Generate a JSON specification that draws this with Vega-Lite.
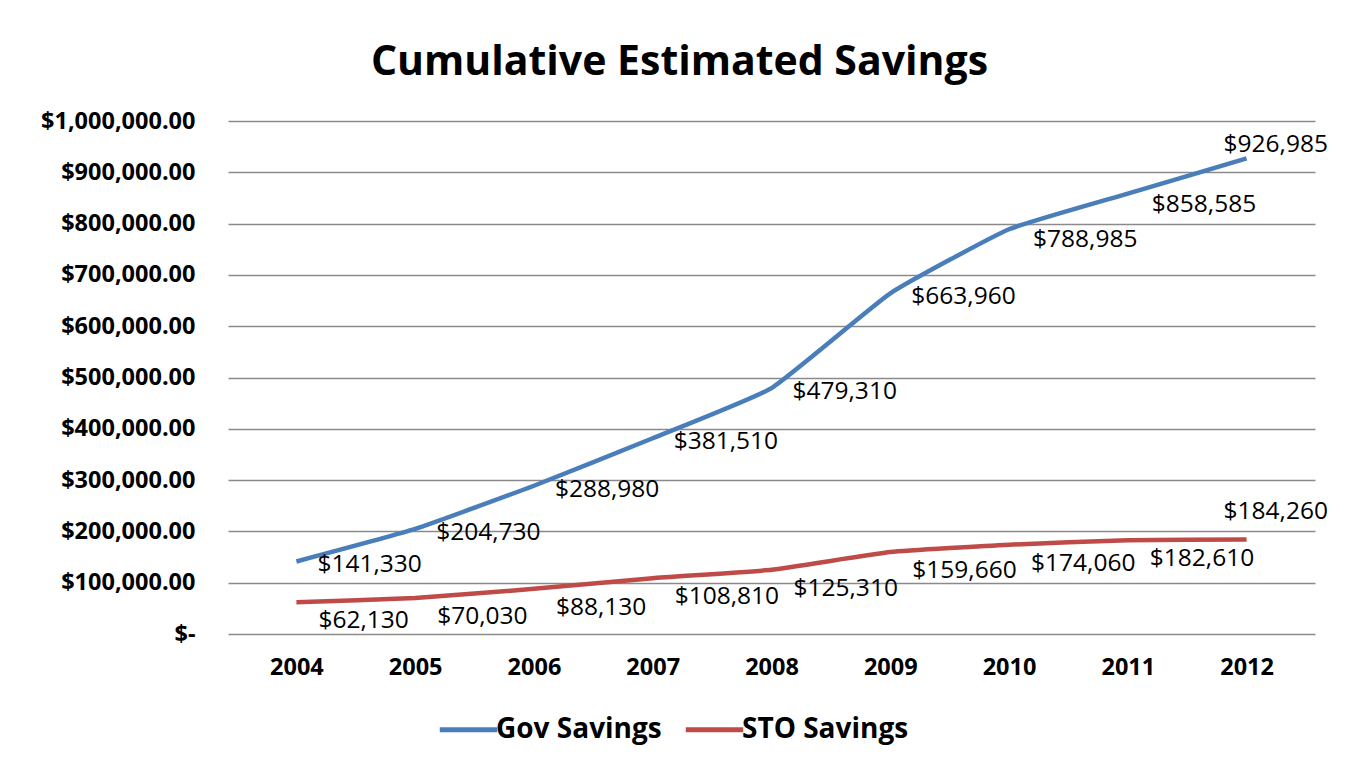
{
  "$schema": "https://vega.github.io/schema/vega-lite/v6.json",
  "autosize": {"type": "none"},
  "width": 1087,
  "height": 513,
  "padding": {"left": 228, "top": 121, "right": 41, "bottom": 143},
  "background": "white",
  "title": {
    "text": "Cumulative Estimated Savings",
    "font": "Open Sans",
    "fontWeight": "bold",
    "fontSize": 41,
    "color": "#000000",
    "anchor": "middle",
    "dx": -92,
    "baseline": "alphabetic",
    "offset": -7
  },
  "data": {
    "values": [
      {"year": "2004", "series": "Gov Savings", "value": 141330},
      {"year": "2005", "series": "Gov Savings", "value": 204730},
      {"year": "2006", "series": "Gov Savings", "value": 288980},
      {"year": "2007", "series": "Gov Savings", "value": 381510},
      {"year": "2008", "series": "Gov Savings", "value": 479310},
      {"year": "2009", "series": "Gov Savings", "value": 663960},
      {"year": "2010", "series": "Gov Savings", "value": 788985},
      {"year": "2011", "series": "Gov Savings", "value": 858585},
      {"year": "2012", "series": "Gov Savings", "value": 926985},
      {"year": "2004", "series": "STO Savings", "value": 62130},
      {"year": "2005", "series": "STO Savings", "value": 70030},
      {"year": "2006", "series": "STO Savings", "value": 88130},
      {"year": "2007", "series": "STO Savings", "value": 108810},
      {"year": "2008", "series": "STO Savings", "value": 125310},
      {"year": "2009", "series": "STO Savings", "value": 159660},
      {"year": "2010", "series": "STO Savings", "value": 174060},
      {"year": "2011", "series": "STO Savings", "value": 182610},
      {"year": "2012", "series": "STO Savings", "value": 184260}
    ]
  },
  "encoding": {
    "x": {
      "field": "year",
      "type": "ordinal",
      "scale": {"type": "point", "padding": 0.576},
      "axis": {
        "title": null,
        "labelAngle": 0,
        "ticks": false,
        "domain": false,
        "grid": false,
        "labelFont": "Open Sans",
        "labelFontWeight": "bold",
        "labelFontSize": 23.5,
        "labelColor": "#000000",
        "labelPadding": 21
      }
    },
    "y": {
      "field": "value",
      "type": "quantitative",
      "scale": {"domain": [0, 1000000], "nice": false},
      "axis": {
        "title": null,
        "values": [0, 100000, 200000, 300000, 400000, 500000, 600000, 700000, 800000, 900000, 1000000],
        "labelExpr": "datum.value == 0 ? '$-\u00a0\u00a0' : format(datum.value, '$,.2f')",
        "ticks": false,
        "domain": false,
        "grid": true,
        "gridColor": "#8a8a8a",
        "gridWidth": 1.3,
        "gridOpacity": 1,
        "labelFont": "Open Sans",
        "labelFontWeight": "bold",
        "labelFontSize": 23.5,
        "labelColor": "#000000",
        "labelPadding": 33
      }
    }
  },
  "layer": [
    {
      "mark": {"type": "line", "strokeWidth": 4.5, "interpolate": "cardinal", "tension": 0.6, "strokeJoin": "round"},
      "encoding": {
        "color": {
          "field": "series",
          "type": "nominal",
          "scale": {"domain": ["Gov Savings", "STO Savings"], "range": ["#4a7ebb", "#be4b48"]},
          "legend": {
            "title": null,
            "orient": "none",
            "legendX": 209,
            "legendY": 577,
            "direction": "horizontal",
            "padding": 0,
            "symbolType": "stroke",
            "symbolSize": 3300,
            "symbolStrokeWidth": 5,
            "labelFont": "Open Sans",
            "labelFontWeight": "bold",
            "labelFontSize": 28,
            "labelColor": "#000000",
            "labelOffset": -4,
            "columnPadding": 13,
            "labelLimit": 400
          }
        }
      }
    },
    {
      "transform": [{"filter": "datum.series == 'Gov Savings' && toNumber(datum.year) <= 2009"}],
      "mark": {"type": "text", "align": "left", "baseline": "middle", "dx": 21, "dy": 4, "font": "Open Sans", "fontSize": 24.5, "color": "#000000"},
      "encoding": {"text": {"field": "value", "type": "quantitative", "format": "$,.0f"}}
    },
    {
      "transform": [{"filter": "datum.series == 'Gov Savings' && (datum.year == '2010' || datum.year == '2011')"}],
      "mark": {"type": "text", "align": "left", "baseline": "middle", "dx": 24, "dy": 11, "font": "Open Sans", "fontSize": 24.5, "color": "#000000"},
      "encoding": {"text": {"field": "value", "type": "quantitative", "format": "$,.0f"}}
    },
    {
      "transform": [{"filter": "datum.series == 'STO Savings' && toNumber(datum.year) <= 2011"}],
      "mark": {"type": "text", "align": "left", "baseline": "middle", "dx": 22, "dy": 19, "font": "Open Sans", "fontSize": 24.5, "color": "#000000"},
      "encoding": {"text": {"field": "value", "type": "quantitative", "format": "$,.0f"}}
    },
    {
      "transform": [{"filter": "datum.series == 'Gov Savings' && datum.year == '2012'"}],
      "mark": {"type": "text", "align": "left", "baseline": "middle", "dx": -23, "dy": -13, "font": "Open Sans", "fontSize": 24.5, "color": "#000000"},
      "encoding": {"text": {"field": "value", "type": "quantitative", "format": "$,.0f"}}
    },
    {
      "transform": [{"filter": "datum.series == 'STO Savings' && datum.year == '2012'"}],
      "mark": {"type": "text", "align": "left", "baseline": "middle", "dx": -23, "dy": -27, "font": "Open Sans", "fontSize": 24.5, "color": "#000000"},
      "encoding": {"text": {"field": "value", "type": "quantitative", "format": "$,.0f"}}
    }
  ],
  "config": {"view": {"stroke": null}}
}
